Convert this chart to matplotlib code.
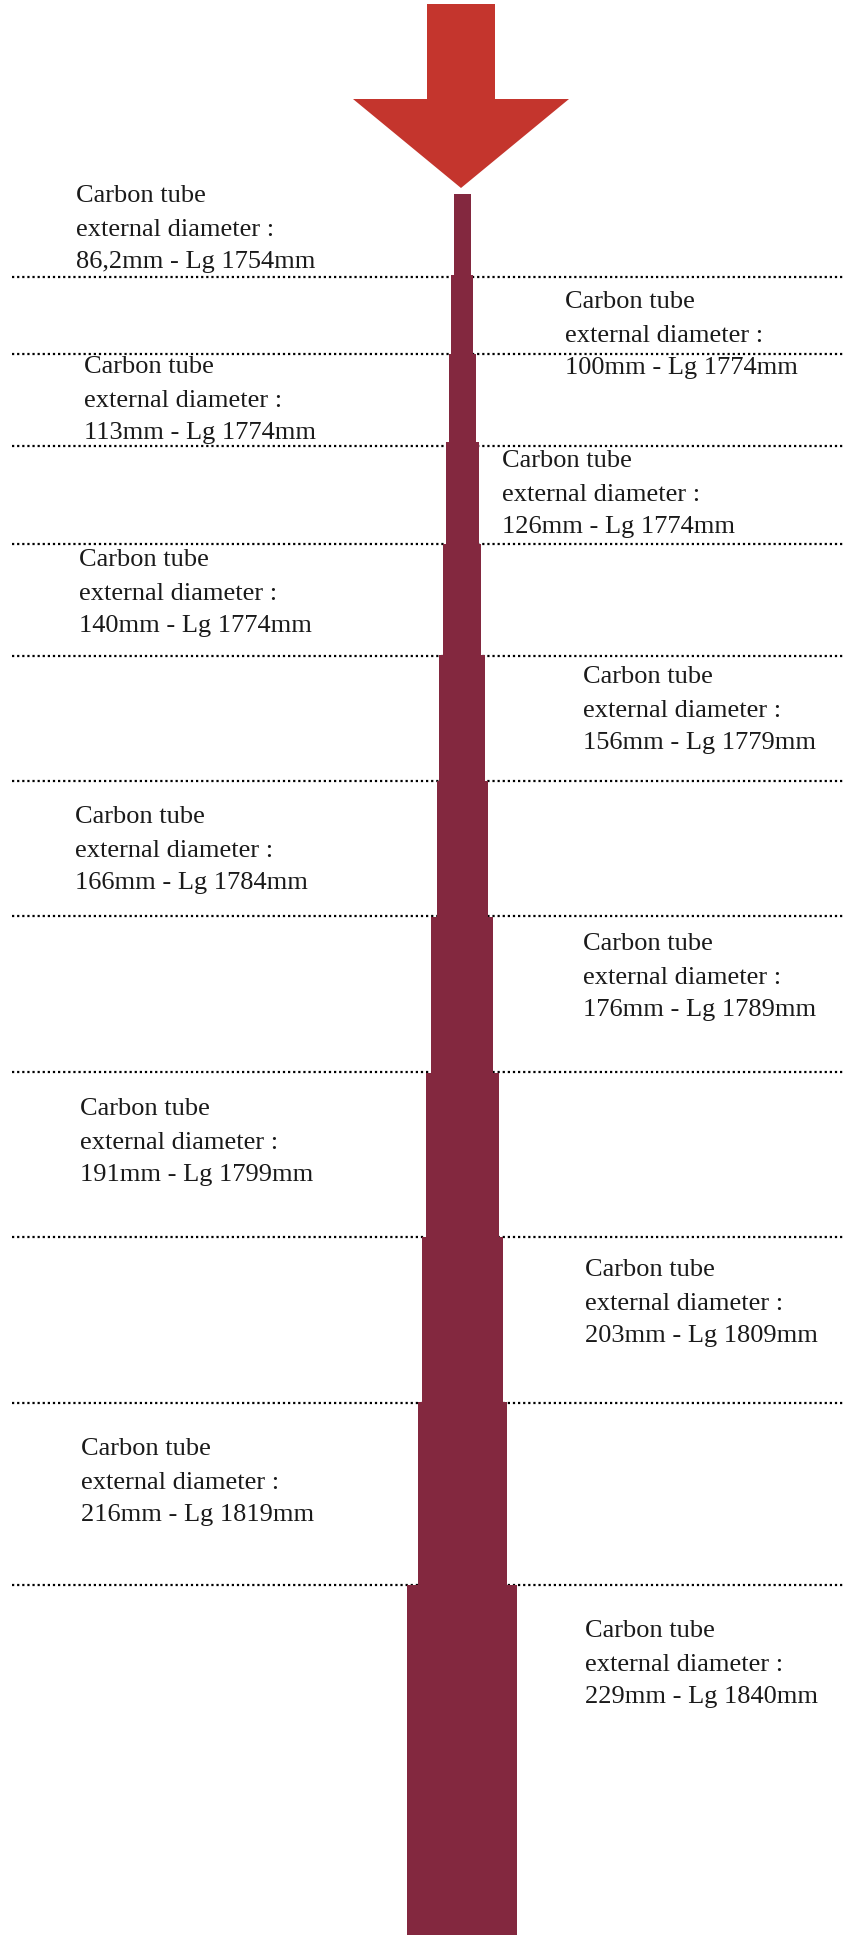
import numpy as np
import matplotlib
matplotlib.use('Agg')
import matplotlib.pyplot as plt
from matplotlib.patches import Polygon

# Tube data (top to bottom)
diameters = [86.2, 100, 113, 126, 140, 156, 166, 176, 191, 203, 216, 229]
lengths = [1754, 1774, 1774, 1774, 1774, 1779, 1784, 1789, 1799, 1809, 1819, 1840]

# Drawing layout (pixel units of the picture)
seg_tops = [194, 275, 354, 442, 544, 655, 781, 917, 1073, 1237, 1402, 1585]
seg_bottom = 1935
seg_widths = [17, 22, 27, 33, 38, 46, 51, 62, 73, 81, 89, 110]
sep_lines = [277, 354, 446, 544, 656, 781, 916, 1072, 1237, 1403, 1585]
label_x = [76, 565, 84, 502, 79, 583, 75, 583, 80, 585, 81, 585]
label_y = [202, 308, 373, 467, 566, 683, 823, 950, 1115, 1276, 1455, 1637]
center_x = 462

W, H = 848, 1935
fig = plt.figure(figsize=(W / 100, H / 100), dpi=100)
ax = fig.add_axes([0, 0, 1, 1])
ax.set_xlim(0, W)
ax.set_ylim(H, 0)
ax.axis('off')

# dotted separators (behind the tube)
for y in sep_lines:
  ax.plot([12, 845], [y, y], color='black', lw=1.6,
          linestyle=(0, (1, 1.3)), zorder=1)

# tube segments
bottoms = seg_tops[1:] + [seg_bottom]
heights = np.array(bottoms) - np.array(seg_tops)
ax.bar([center_x] * len(seg_tops), heights, width=seg_widths,
       bottom=seg_tops, color='#83283F', align='center', zorder=2)

# red arrow on top
arrow = Polygon([(427, 4), (495, 4), (495, 99), (569, 99), (461, 188),
                 (353, 99), (427, 99)], closed=True, color='#C4352D',
                zorder=3, lw=0)
ax.add_patch(arrow)

# labels
for i in range(len(diameters)):
  d = ('%g' % diameters[i]).replace('.', ',')
  lines = ['Carbon tube', 'external diameter :',
           '%smm - Lg %dmm' % (d, lengths[i])]
  offsets = [0, 34, 66]
  for txt, off in zip(lines, offsets):
    ax.text(label_x[i], label_y[i] + off, txt, family='Liberation Serif',
            fontsize=19, color='#1a1a1a', ha='left', va='baseline',
            zorder=4)

fig.savefig('out.png', dpi=100, facecolor='white')
